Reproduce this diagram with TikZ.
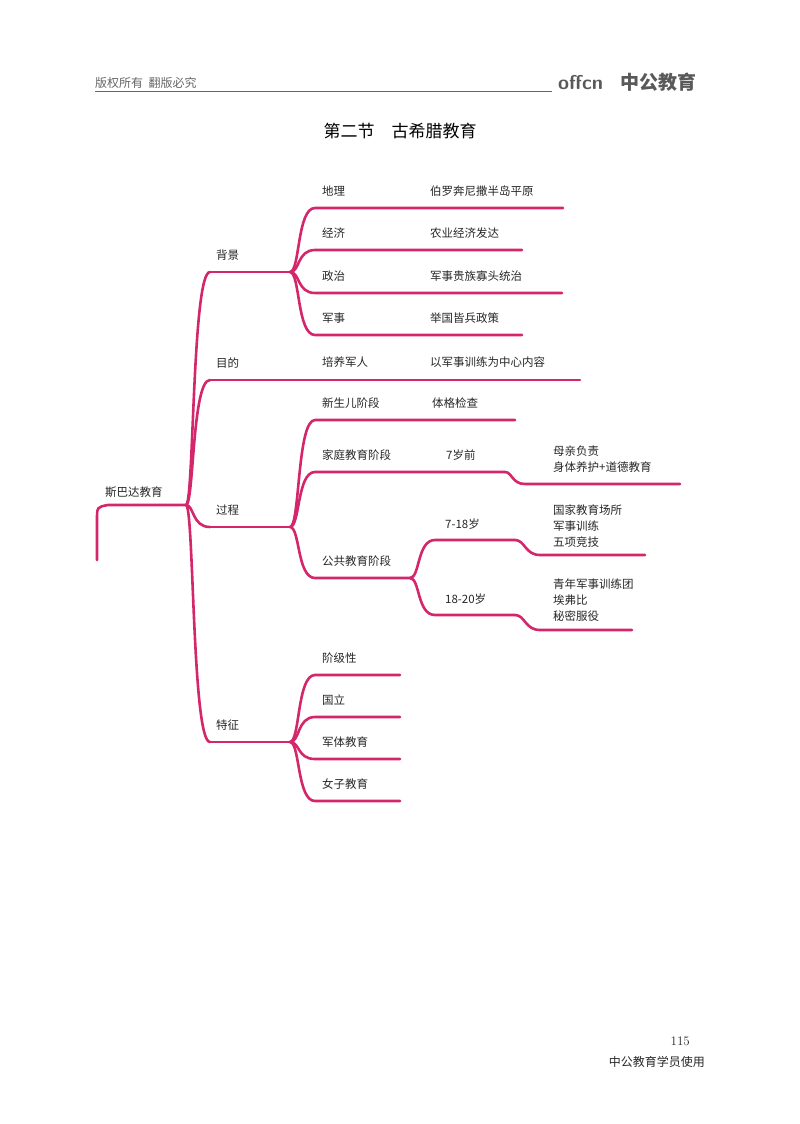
\documentclass[tikz,border=0pt]{standalone}
\usepackage{fontspec}
\newfontfamily\cjk{Noto Sans CJK SC}
\begin{document}
\begin{tikzpicture}[x=1pt,y=-1pt,
  br/.style={draw=mapc,line width=2.6pt,line cap=round},
  lab/.style={anchor=base west,inner sep=0pt,font=\cjk\fontsize{11.5}{13}\selectfont},
  every node/.style={text=black!85}]
\definecolor{mapc}{HTML}{D4266A}
\useasboundingbox (0,0) rectangle (800,1124);
% header
\node[anchor=base west,inner sep=0,font=\cjk\fontsize{12}{14}\selectfont,text=black!60] (hd) at (95,87) {版权所有\ \ 翻版必究};
\draw[black!60,line width=0.8pt] (95,91) -- (552,91);
\node[anchor=base west,inner sep=0,font=\sffamily\bfseries\fontsize{20}{22}\selectfont,text=black!65] (logo) at (558,89) {offcn};
\node[anchor=base west,inner sep=0,font=\cjk\bfseries\fontsize{19}{22}\selectfont,text=black!65] (logo2) at (620,89) {中公教育};
\node[font=\cjk\fontsize{17}{20}\selectfont,text=black] (title) at (400,131) {第二节\quad 古希腊教育};
\node[anchor=base east,inner sep=0,font=\fontsize{13}{15}\selectfont] (pg) at (690,1045) {115};
\node[anchor=base east,inner sep=0,font=\cjk\fontsize{12}{14}\selectfont] (ft) at (705,1066) {中公教育学员使用};
% root
\coordinate (r0) at (97,560);
\coordinate (b0) at (186,505);
\draw[br] (r0) -- (97,520) .. controls (97,507) .. (108,505) -- (b0);
\node[lab] (root) at (105,496) {斯巴达教育};
% level 1
\foreach \y/\t/\n in {272/背景/a,380/目的/b,527/过程/c,742/特征/d}{
  \coordinate (\n) at (210,\y);
  \draw[br] (b0) .. controls (194,505) and (192,\y) .. (\n);
  \node[lab] at (216,\y-13) {\t};
}
\coordinate (ba) at (290,272);
\coordinate (bc) at (290,527);
\coordinate (bd) at (290,742);
\draw[br] (a) -- (ba);
\draw[br] (c) -- (bc);
\draw[br] (d) -- (bd);
\draw[br] (b) -- (580,380);
\node[lab] at (322,366) {培养军人};
\node[lab] at (430,366) {以军事训练为中心内容};
% leaves macro-like loops
\foreach \y/\l/\r/\e in {208/地理/伯罗奔尼撒半岛平原/563,250/经济/农业经济发达/522,293/政治/军事贵族寡头统治/562,335/军事/举国皆兵政策/522}{
  \draw[br] (ba) .. controls (300,272) and (297,\y) .. (315,\y) -- (\e,\y);
  \node[lab] at (322,\y-13) {\l};
  \node[lab] at (430,\y-13) {\r};
}
\foreach \y/\l in {675/阶级性,717/国立,759/军体教育,801/女子教育}{
  \draw[br] (bd) .. controls (300,742) and (297,\y) .. (315,\y) -- (400,\y);
  \node[lab] at (322,\y-13) {\l};
}
% process
\draw[br] (bc) .. controls (300,527) and (297,420) .. (315,420) -- (515,420);
\node[lab] at (322,407) {新生儿阶段};
\node[lab] at (432,407) {体格检查};
\coordinate (bf) at (505,472);
\draw[br] (bc) .. controls (300,527) and (297,472) .. (315,472) -- (bf);
\node[lab] at (322,459) {家庭教育阶段};
\node[lab] at (446,459) {7岁前};
\draw[br] (bf) .. controls (512,472) and (512,484) .. (525,484) -- (680,484);
\node[lab] at (553,455) {母亲负责};
\node[lab] at (553,471) {身体养护+道德教育};
\coordinate (bp) at (410,578);
\draw[br] (bc) .. controls (300,527) and (297,578) .. (315,578) -- (bp);
\node[lab] at (322,565) {公共教育阶段};
\coordinate (p1) at (515,540);
\coordinate (p2) at (515,615);
\draw[br] (bp) .. controls (420,578) and (417,540) .. (435,540) -- (p1);
\draw[br] (bp) .. controls (420,578) and (417,615) .. (435,615) -- (p2);
\node[lab] at (445,528) {7-18岁};
\node[lab] at (445,603) {18-20岁};
\draw[br] (p1) .. controls (525,540) and (525,555) .. (540,555) -- (645,555);
\draw[br] (p2) .. controls (525,615) and (525,630) .. (540,630) -- (632,630);
\node[lab] at (553,514) {国家教育场所};
\node[lab] at (553,530) {军事训练};
\node[lab] at (553,546) {五项竞技};
\node[lab] at (553,588) {青年军事训练团};
\node[lab] at (553,604) {埃弗比};
\node[lab] at (553,620) {秘密服役};
\end{tikzpicture}
\end{document}
